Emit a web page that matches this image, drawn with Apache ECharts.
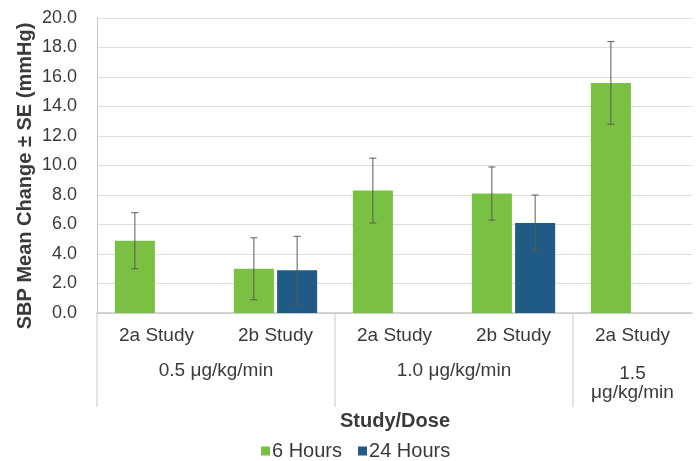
<!DOCTYPE html>
<html>
<head>
<meta charset="utf-8">
<script src="https://cdn.jsdelivr.net/npm/echarts@6/dist/echarts.min.js"></script>
<style>
  html, body { margin: 0; padding: 0; background: #fff; }
  #chart { width: 696px; height: 461px; }
</style>
</head>
<body>
<div id="chart"></div>
<script>
// Study arms along the x axis
const categories = ['2a Study', '2b Study', '2a Study', '2b Study', '2a Study'];
// Dose groups: [first category index, last category index, label]
const doseGroups = [
  [0, 1, '0.5 μg/kg/min'],
  [2, 3, '1.0 μg/kg/min'],
  [4, 4, '1.5\nμg/kg/min']
];
// Mean SBP change (mmHg) and standard error
const hours6Mean = [4.9, 3.0, 8.3, 8.1, 15.6];
const hours6SE   = [1.9, 2.1, 2.2, 1.8, 2.8];
const hours24Mean = [null, 2.9, null, 6.1, null];
const hours24SE   = [null, 2.3, null, 1.9, null];
const yTicks = { min: 0, max: 20, interval: 2 };

const GREEN = '#7ac143';
const BLUE = '#1f5b85';
const TEXT = '#3a3a3a';
const FONT = 'Liberation Sans, Arial, sans-serif';
const CAT_GAP = 0.30;   // barCategoryGap
const BAR_GAP = 0.08;   // barGap

const chart = echarts.init(document.getElementById('chart'), null, { renderer: 'canvas' });

// Error bar renderer: side -1 is the left bar of a band, +1 the right one
function errorRenderer(side) {
  return function (params, api) {
    const idx = api.value(0);
    const mean = api.value(1);
    const se = api.value(2);
    const band = api.size([1, 0])[0];
    const w = band * (1 - CAT_GAP) / (2 + BAR_GAP);
    const shift = side * (w + BAR_GAP * w) / 2;
    const c = api.coord([idx, mean]);
    const top = api.coord([idx, mean + se]);
    const bot = api.coord([idx, mean - se]);
    const x = c[0] + shift;
    const cap = 3.5;
    const style = { stroke: '#5a5a5a', lineWidth: 1 };
    return {
      type: 'group',
      children: [
        { type: 'line', shape: { x1: x, y1: top[1], x2: x, y2: bot[1] }, style },
        { type: 'line', shape: { x1: x - cap, y1: top[1], x2: x + cap, y2: top[1] }, style },
        { type: 'line', shape: { x1: x - cap, y1: bot[1], x2: x + cap, y2: bot[1] }, style }
      ]
    };
  };
}

function errData(means, ses) {
  const out = [];
  means.forEach((m, i) => { if (m != null) out.push([i, m, ses[i]]); });
  return out;
}

// Dose group separators and labels beneath the category labels
function groupRenderer(params, api) {
  const s = api.value(0), e = api.value(1);
  const band = api.size([1, 0])[0];
  const p0 = api.coord([s, 0]);
  const p1 = api.coord([e, 0]);
  const left = p0[0] - band / 2;
  const right = p1[0] + band / 2;
  const y0 = p0[1];
  const label = doseGroups[params.dataIndex][2];
  const multi = label.indexOf('\n') >= 0;
  const lineStyle = { stroke: '#c8c8c8', lineWidth: 1 };
  return {
    type: 'group',
    children: [
      { type: 'line', shape: { x1: left, y1: y0, x2: left, y2: y0 + 94 }, style: lineStyle },
      {
        type: 'text',
        x: (left + right) / 2,
        y: multi ? y0 + 51 : y0 + 48,
        style: {
          text: label, fill: TEXT, font: '19px ' + FONT,
          align: 'center', verticalAlign: 'top', lineHeight: 19
        }
      }
    ]
  };
}

chart.setOption({
  animation: false,
  textStyle: { fontFamily: FONT },
  grid: { left: 97, right: 4, top: 18, bottom: 148 },
  graphic: [
    {
      type: 'text', x: 25, y: 176, rotation: Math.PI / 2,
      style: {
        text: 'SBP Mean Change ± SE (mmHg)', fill: TEXT,
        font: 'bold 20px ' + FONT, align: 'center', verticalAlign: 'middle'
      }
    },
    {
      type: 'text', x: 395, y: 421,
      style: {
        text: 'Study/Dose', fill: TEXT,
        font: 'bold 20px ' + FONT, align: 'center', verticalAlign: 'middle'
      }
    }
  ],
  legend: {
    top: 436,
    left: 256,
    itemWidth: 9,
    itemHeight: 9,
    itemGap: 16,
    icon: 'rect',
    textStyle: { fontSize: 20, color: TEXT, fontFamily: FONT, padding: [0, 0, 0, -3] },
    data: ['6 Hours', '24 Hours']
  },
  xAxis: {
    type: 'category',
    data: categories,
    axisLine: { lineStyle: { color: '#c8c8c8', width: 1.5 } },
    axisTick: { show: false },
    axisLabel: { color: TEXT, fontSize: 19, margin: 13, fontFamily: FONT }
  },
  yAxis: {
    type: 'value',
    min: yTicks.min,
    max: yTicks.max,
    interval: yTicks.interval,
    axisLine: { show: true, lineStyle: { color: '#c8c8c8', width: 1 } },
    axisTick: { show: false },
    splitLine: { lineStyle: { color: '#dedede', width: 1 } },
    axisLabel: {
      color: TEXT, fontSize: 18, margin: 20, fontFamily: FONT,
      formatter: v => v.toFixed(1)
    }
  },
  series: [
    {
      name: '6 Hours', type: 'bar', data: hours6Mean,
      itemStyle: { color: GREEN },
      barCategoryGap: (CAT_GAP * 100) + '%', barGap: (BAR_GAP * 100) + '%'
    },
    {
      name: '24 Hours', type: 'bar', data: hours24Mean,
      itemStyle: { color: BLUE },
      barCategoryGap: (CAT_GAP * 100) + '%', barGap: (BAR_GAP * 100) + '%'
    },
    {
      type: 'custom', name: '6 Hours SE', renderItem: errorRenderer(-1),
      data: errData(hours6Mean, hours6SE), z: 10, silent: true,
      encode: { x: 0, y: 1 }
    },
    {
      type: 'custom', name: '24 Hours SE', renderItem: errorRenderer(1),
      data: errData(hours24Mean, hours24SE), z: 10, silent: true,
      encode: { x: 0, y: 1 }
    },
    {
      type: 'custom', name: 'dose groups', renderItem: groupRenderer,
      data: doseGroups.map(g => [g[0], g[1]]), clip: false, silent: true,
      encode: { x: 0 }
    }
  ]
});
</script>
</body>
</html>
